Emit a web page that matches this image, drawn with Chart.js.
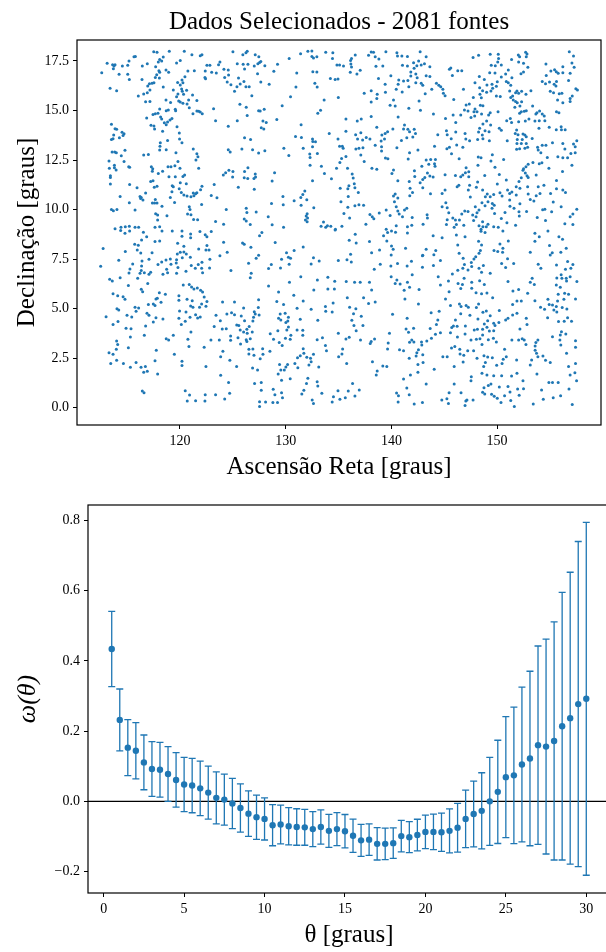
<!DOCTYPE html>
<html>
<head>
<meta charset="utf-8">
<script src="https://cdn.jsdelivr.net/npm/chart.js@4.4.1/dist/chart.umd.min.js"></script>
<style>
  html, body { margin: 0; padding: 0; background: #fff; width: 606px; height: 952px; overflow: hidden; position: relative; }
  #mapa { position: absolute; left: 0; top: 0; }
  #correlacao { position: absolute; left: 0; top: 480px; }
</style>
</head>
<body>
<canvas id="mapa" width="606" height="480"></canvas>
<canvas id="correlacao" width="614" height="472"></canvas>
<script>
// Painel 1: posições das fontes (ascensão reta, declinação)
const tituloMapa = 'Dados Selecionados - 2081 fontes';
const fontes = [
[112.60,16.91],[113.11,17.38],[113.63,17.31],[113.76,17.25],[113.86,17.31],[113.70,17.11],[114.55,17.25],[115.06,17.28],[115.18,17.5],[115.65,17.72],[115.78,17.73],[114.24,16.83],[115.06,16.83],[115.21,16.56],[113.39,16.13],[114.01,16.0],[116.41,16.56],[116.44,17.25],[116.91,17.36],[117.52,17.97],[117.83,17.94],[118.08,17.58],[118.42,17.7],[118.27,17.5],[117.95,17.45],[117.70,17.21],[118.01,17.01],[118.08,16.93],[117.80,16.81],[117.67,16.67],[118.05,16.64],[118.68,17.04],[118.93,16.93],[118.99,17.99],[119.68,17.4],[120.03,17.52],[120.41,17.99],[120.75,16.99],[121.13,17.82],[121.36,17.01],[121.92,17.77],[122.08,17.82],[122.39,16.99],[122.36,16.67],[122.42,16.6],
[119.78,16.42],[120.19,16.54],[120.28,16.4],[120.47,16.71],[120.03,16.29],[120.16,16.08],[120.63,16.02],[120.34,15.82],[120.22,15.97],[119.81,15.83],[119.68,15.7],[119.37,16.03],[121.19,15.78],[121.60,15.51],[120.82,15.53],[120.67,15.33],[120.28,15.36],[120.03,15.43],[119.88,15.48],[119.11,15.41],[118.42,16.19],[118.68,15.53],[118.70,14.99],[118.90,15.02],[119.56,15.06],[119.59,14.99],[119.24,14.59],[119.06,14.52],[118.83,14.42],[118.70,14.28],[118.52,14.38],[118.27,14.57],[118.17,14.67],[117.92,14.86],[118.08,15.07],[117.67,14.84],[117.45,14.8],[116.85,14.62],[117.16,15.46],[116.75,15.44],[116.57,15.83],[116.06,15.73],[116.91,15.9],[117.16,16.03],[116.95,16.24],[117.11,16.35],[117.36,16.37],[117.54,16.4],[117.26,14.25],[117.54,14.22],[117.60,14.06],[118.36,13.95],[119.72,14.18],[119.94,13.86],[119.96,13.56],[120.19,13.37],[120.88,15.14],[121.23,14.84],[121.60,14.97],[121.77,14.96],[121.92,14.92],[122.11,14.84],[121.26,13.05],[121.60,12.82],[121.70,12.67],[121.51,12.5],[121.77,12.09],[122.08,11.18],[121.95,11.0],[121.60,10.85],[121.48,10.8],[121.26,10.83],[121.32,10.7],[120.88,10.14],[120.95,10.0],[120.72,9.77],[121.04,9.74],[121.29,9.5],[121.67,9.48],[122.05,10.26],
[113.52,14.3],[113.86,14.08],[114.01,14.05],[114.52,13.9],[114.71,13.83],[114.62,13.74],[114.27,13.63],[113.73,13.76],[113.52,13.54],[113.67,13.58],[113.58,12.9],[113.83,12.9],[113.98,12.87],[114.80,12.99],[114.45,12.72],[114.71,12.43],[115.15,12.16],[115.24,12.13],[113.80,12.23],[113.80,12.11],[113.96,12.0],[113.32,12.09],[113.29,12.45],[113.42,11.71],[113.42,11.62],[113.42,11.29],[115.24,11.27],[115.94,11.1],[116.22,10.66],[116.34,10.61],[116.28,10.56],[116.75,10.83],[116.50,10.48],[114.34,10.66],[115.21,10.34],[115.75,9.97],[113.52,10.0],[113.70,9.94],[114.04,10.0],[117.42,12.06],[117.29,12.16],[117.39,11.93],[117.45,11.45],[117.23,11.42],[117.57,11.13],[117.83,11.17],[117.95,11.82],[118.36,11.93],[118.87,12.16],[119.15,12.16],[119.52,12.21],[120.00,12.08],[118.96,11.66],[119.56,11.66],[119.81,12.43],[120.28,11.67],[120.44,11.74],[120.03,11.35],[120.60,11.3],[120.37,10.73],[120.67,10.68],[121.04,10.64],[119.93,11.05],[120.13,10.86],[119.27,11.2],[119.37,11.15],[119.24,10.9],[119.09,10.61],[119.49,10.36],[118.30,10.16],[117.67,10.51],[117.60,10.33],[117.39,10.33],[117.83,10.33],[117.70,9.79],[117.89,9.72],[117.89,9.47],[118.77,9.69],[118.08,9.13],[117.64,9.1],[116.09,9.1],[115.75,9.1],[115.21,9.15],[114.83,9.13],[114.42,9.1],[113.86,9.03],[116.57,12.75],[117.01,12.78],[118.14,13.37],[118.11,13.2],[118.08,13.0],[118.70,13.02],[119.62,12.87],[118.83,13.49],
[122.55,17.28],[122.83,17.28],[123.00,16.93],[123.44,16.89],[123.65,17.31],[123.78,17.45],[124.16,17.08],[124.23,16.67],[124.57,17.04],[124.60,16.79],[124.47,16.44],[124.82,16.3],[125.01,17.97],[125.42,17.36],[125.54,16.64],[125.39,16.2],[125.16,15.97],[125.70,16.34],[125.95,17.82],[126.24,17.92],[126.36,17.99],[125.98,17.33],[126.43,17.33],[126.11,17.09],[126.05,16.47],[126.24,16.2],[126.55,16.2],[127.12,17.82],[127.46,17.72],[127.37,17.36],[127.53,17.43],[127.65,17.48],[128.03,17.26],[127.03,17.25],[127.34,16.86],[127.65,16.44],[128.44,16.32],[128.88,16.98],[129.23,17.33],[126.80,15.75],[125.67,15.31],[126.27,15.16],[126.36,14.75],[127.44,14.99],[127.59,14.97],[127.97,15.06],[127.85,14.47],[128.16,14.4],[127.69,14.13],[127.93,14.06],[129.16,14.55],[129.67,15.24],[123.18,15.09],[123.37,14.48],[124.57,14.2],[125.42,14.48],[126.11,13.63],[126.68,13.54],[124.57,13.02],[124.75,12.9],[125.86,13.05],[126.87,13.02],[127.44,12.85],[128.03,12.97],[129.83,13.09],[130.30,12.73],[130.93,13.69],[131.49,13.64],[131.46,14.28],[131.66,13.09],[132.54,13.56],[132.57,13.44],[132.82,13.42],[132.54,13.17],[132.28,12.8],[132.31,12.63],[133.00,12.83],[132.31,12.24],[132.54,11.45],[133.30,15.01],[133.04,14.86],[134.12,13.84],[130.46,15.7],[130.97,16.19],[131.05,16.89],[130.33,17.63],[131.41,17.87],[132.10,17.99],[132.48,18.0],[132.48,17.73],[132.63,17.65],[132.95,17.72],[132.57,16.96],[132.95,16.94],[132.76,16.37],[132.98,16.19],[133.79,17.94],[134.46,17.92],[134.43,17.63],[134.23,16.62],[134.68,16.57],[133.64,15.53],[126.43,12.11],[126.11,11.92],[127.12,11.79],[127.15,11.64],[127.00,11.57],[126.08,11.6],[126.41,11.57],[125.01,11.92],[124.63,11.98],[124.32,11.86],[124.10,11.74],[124.98,11.64],[125.52,11.13],[123.24,11.27],[122.96,10.71],[123.50,10.59],[124.38,10.0],[127.03,11.03],[128.95,11.86],[128.72,11.44],[129.74,10.66],[130.80,10.44],[129.77,10.24],[128.66,10.31],[131.43,10.61],[131.62,10.76],[131.81,10.93],[131.46,10.21],[132.00,10.49],[132.03,9.79],[131.94,9.67],[132.07,9.57],[131.87,9.47],[132.03,9.38],[132.66,10.09],[133.38,12.18],[133.67,11.82],[134.33,11.55],[134.81,12.08],[133.35,9.15],[133.58,9.37],[133.79,9.1],[133.95,9.18],[134.27,9.16],[134.71,9.0],[126.27,10.07],[126.33,9.85],[127.21,9.87],[128.35,9.63],[126.08,9.52],[126.27,9.42],[126.65,9.25],[128.72,9.23],[129.80,9.1],[124.13,9.26],[123.37,9.4],
[134.85,17.3],[135.10,17.3],[135.47,17.25],[134.95,16.59],[134.98,15.66],[136.14,17.52],[136.23,17.63],[136.58,17.8],[136.17,17.35],[136.23,17.2],[136.11,16.93],[136.74,16.84],[137.05,17.03],[137.84,17.79],[138.09,17.95],[138.31,17.94],[138.47,17.72],[138.82,17.6],[139.48,17.97],[138.54,17.23],[139.19,17.25],[139.95,16.76],[138.78,16.62],[139.41,16.32],[139.44,15.92],[138.66,15.82],[138.62,15.6],[138.09,16.0],[137.43,15.87],[138.09,15.43],[139.88,15.26],[140.36,15.23],[140.20,15.53],[140.52,17.92],[140.58,17.75],[140.99,17.75],[141.52,17.73],[141.05,17.28],[141.52,17.25],[142.10,17.41],[142.58,17.5],[142.72,17.97],[143.29,17.72],[143.13,17.36],[142.82,17.3],[142.41,17.26],[142.15,17.13],[141.84,16.94],[142.31,16.84],[142.44,16.66],[141.84,16.74],[141.56,16.52],[141.15,16.49],[140.70,16.54],[140.64,16.32],[140.46,16.07],[141.02,15.93],[141.65,16.2],[142.31,16.4],[142.82,16.37],[142.97,16.27],[143.29,16.76],[143.64,16.72],[143.64,17.21],[143.20,15.85],[142.62,15.48],[141.65,15.11],[142.75,15.01],[143.82,16.07],[144.26,16.37],[144.49,16.27],[144.67,16.2],[144.87,16.07],[144.92,15.87],[145.08,15.75],[143.98,14.82],[145.90,15.56],[145.49,17.08],[145.62,17.15],[145.77,16.77],[146.28,17.01],[146.66,17.01],[146.82,16.07],[147.07,15.28],[146.91,15.02],[146.56,14.77],[145.84,14.77],[145.12,14.6],[146.09,14.4],[146.97,13.84],[147.04,13.56],[145.21,13.98],[145.28,13.78],[145.66,13.58],[146.09,13.91],[144.39,13.78],[144.08,13.19],[145.25,13.07],[145.49,13.15],[146.18,13.26],[145.69,12.82],[146.41,12.57],[146.76,13.14],[147.00,11.86],[147.07,12.11],[146.76,11.74],[146.56,11.66],[146.06,11.72],[146.38,11.23],[146.22,11.15],[145.08,11.76],[144.80,10.81],[145.08,10.98],[143.95,11.64],[143.64,11.69],[143.41,11.84],[143.16,11.62],[142.97,11.52],[144.13,12.19],[144.08,12.31],[143.72,12.53],[144.17,12.53],[143.29,12.5],[143.54,12.28],[142.88,12.18],[142.21,11.67],[141.69,11.42],[141.77,11.08],[142.00,10.86],[141.74,10.7],[142.97,11.1],[142.72,11.35],[143.70,10.8],[141.46,10.06],[141.24,9.97],[141.05,9.63],[140.36,10.78],[140.20,10.68],[140.61,10.58],[140.29,10.39],[140.61,9.92],[140.74,9.77],[140.46,10.14],[139.88,9.7],[139.51,9.97],[140.46,9.18],[141.97,9.6],[141.93,9.2],[143.38,9.74],[143.41,9.57],[143.00,9.26],[141.52,9.13],[140.20,11.99],[140.05,11.82],[140.61,11.45],[142.18,11.96],[141.59,12.55],[141.72,12.87],[142.51,13.0],[142.16,14.05],[142.28,13.84],[142.03,13.66],[141.72,13.93],[141.56,14.05],[141.15,14.06],[141.24,14.27],[141.46,13.63],[140.95,13.49],[140.64,14.67],[140.14,14.06],[139.64,13.93],[139.41,13.84],[139.10,13.76],[139.03,13.46],[139.35,13.56],[138.47,13.24],[139.07,13.17],[139.07,12.95],[139.44,12.6],[139.67,12.56],[140.52,13.12],[138.62,14.15],[138.09,14.7],[137.15,14.57],[136.77,14.47],[135.70,14.57],[135.70,13.95],[136.62,13.78],[136.80,13.56],[137.28,13.51],[137.62,13.64],[137.97,13.56],[137.11,13.88],[137.31,13.12],[136.93,13.09],[136.64,13.05],[137.11,12.75],[135.10,13.2],[135.36,13.2],[135.44,13.09],[134.95,13.56],[135.70,12.68],[135.29,12.58],[135.13,12.38],[135.85,12.08],[136.29,11.79],[136.39,11.59],[136.49,11.3],[136.55,11.1],[135.98,11.2],[135.88,11.05],[136.87,10.86],[135.92,10.66],[135.23,10.39],[135.16,11.07],[135.88,10.11],[136.55,10.19],[136.93,10.24],[137.37,10.21],[135.51,9.8],[136.05,9.57],[135.32,9.16],[137.59,9.26],[137.97,9.75],[138.19,9.63],[138.34,9.53],[138.85,9.82],[139.51,9.0],[138.16,12.08],[138.62,12.03],[137.43,12.43],[145.15,10.34],[145.28,10.09],[144.80,10.14],[145.43,9.84],[145.28,9.48],[145.21,9.25],[145.81,9.57],[146.06,9.47],[146.15,9.25],[146.44,9.47],[146.66,9.77],[146.94,9.92],[146.85,9.21],[145.94,9.1],
[147.73,17.68],[148.25,17.79],[149.35,17.84],[150.11,17.84],[150.14,17.63],[150.06,17.45],[151.37,17.57],[152.01,17.8],[152.13,17.72],[152.04,17.45],[152.50,17.38],[152.70,17.94],[152.83,17.85],[152.76,17.72],[152.91,17.18],[152.50,16.94],[152.26,16.86],[151.06,17.04],[150.81,16.84],[150.40,16.69],[150.40,17.3],[149.83,17.26],[149.45,17.28],[149.30,16.91],[149.80,16.89],[150.02,16.45],[149.93,16.22],[149.04,16.29],[148.79,16.57],[148.32,16.72],[147.91,16.4],[148.35,16.15],[148.63,16.0],[148.38,15.82],[148.51,15.65],[147.75,15.66],[149.52,16.32],[149.58,16.12],[149.42,15.98],[149.01,15.92],[149.93,15.73],[150.30,15.71],[150.87,16.47],[151.06,16.4],[151.29,16.27],[151.19,15.98],[151.40,16.66],[151.75,15.9],[151.88,15.98],[152.04,15.87],[152.32,15.97],[152.73,15.82],[151.47,15.73],[151.29,15.66],[151.53,15.53],[151.75,15.46],[151.91,15.39],[152.32,15.44],[152.16,15.23],[151.68,15.16],[153.20,16.0],[153.36,15.23],[152.76,14.99],[152.57,14.96],[152.29,14.94],[152.13,14.86],[152.04,14.43],[152.67,14.47],[153.01,14.57],[153.67,14.82],[153.77,14.89],[154.02,14.97],[154.27,14.82],[154.46,14.72],[154.52,14.48],[153.99,14.48],[153.58,14.47],[153.96,14.1],[154.93,14.16],[155.60,14.03],[156.06,14.18],[156.09,14.03],[156.44,14.03],[155.62,14.94],[155.85,14.89],[154.62,17.35],[155.09,16.99],[155.44,17.06],[155.60,16.96],[155.78,16.88],[156.22,17.21],[156.22,16.91],[156.76,16.52],[156.91,16.88],[157.08,17.4],[157.29,17.18],[157.23,17.75],[156.83,17.97],[154.65,16.77],[154.27,16.47],[154.58,16.35],[154.96,16.44],[155.40,16.32],[155.62,16.47],[155.57,16.24],[155.03,15.97],[155.34,15.9],[155.88,15.85],[156.13,15.87],[155.72,15.53],[156.22,15.39],[156.91,15.61],[157.11,15.73],[157.45,16.1],[157.60,16.03],[156.91,15.46],[147.81,14.94],[147.91,15.07],[148.10,14.94],[148.42,15.26],[148.66,15.24],[147.37,15.33],[147.25,14.97],[147.53,14.65],[147.88,14.72],[148.53,14.82],[149.20,14.77],[149.35,14.89],[150.09,14.94],[149.01,14.47],[148.66,14.32],[149.39,14.27],[148.35,14.11],[148.25,13.91],[148.86,13.98],[149.24,13.93],[150.21,14.1],[150.40,14.0],[150.91,14.48],[151.25,14.59],[151.37,14.4],[151.85,14.01],[151.72,13.84],[151.98,13.78],[152.45,13.81],[152.63,13.76],[152.76,13.68],[152.38,13.54],[151.91,13.54],[151.88,13.34],[152.29,13.34],[152.76,13.34],[152.89,13.15],[152.63,13.09],[152.13,13.07],[151.85,13.04],[153.32,13.59],[150.96,13.47],[147.40,13.47],[148.16,13.54],[148.66,13.57],[148.60,13.76],[149.27,13.47],[153.83,13.14],[153.89,13.0],[154.27,13.24],[154.62,13.24],[154.14,12.87],[154.75,12.63],[155.24,13.37],[156.22,13.34],[156.41,13.05],[157.23,13.31],[157.39,13.17],[157.54,13.47],[157.39,12.87],[155.75,12.67],[156.22,12.62],[156.67,12.62],[156.98,12.83],[157.08,12.23],[156.19,11.92],[155.62,11.47],[154.24,12.36],[153.99,12.31],[154.90,12.08],[154.43,11.22],[153.89,11.15],[154.06,10.81],[153.70,10.69],[153.14,10.51],[153.48,10.43],[153.70,11.74],[152.94,12.28],[152.73,12.16],[152.50,12.06],[152.67,11.84],[152.83,11.71],[152.94,11.62],[152.45,11.98],[153.39,12.38],[152.29,11.6],[152.07,11.42],[152.16,11.07],[152.94,10.78],[152.89,11.15],[151.81,11.15],[151.81,10.73],[151.40,10.88],[151.19,10.81],[150.99,10.98],[151.19,10.48],[150.87,11.49],[150.21,11.77],[150.62,12.53],[149.80,12.14],[148.83,11.72],[148.19,12.24],[148.22,12.65],[148.48,12.61],[149.55,12.77],[149.42,12.45],[148.16,11.39],[148.04,11.13],[148.63,10.98],[149.07,10.78],[148.89,10.64],[149.35,10.64],[149.68,10.76],[150.02,11.29],[150.27,10.85],[150.47,10.68],[149.55,10.31],[149.73,10.22],[149.52,10.06],[149.76,9.8],[150.40,9.55],[150.75,9.85],[151.22,10.17],[151.60,10.06],[152.16,10.29],[152.07,9.89],[152.79,9.9],[152.10,9.67],[151.75,9.21],[150.93,9.33],[150.11,9.1],[149.68,9.13],[149.14,9.26],[148.98,9.13],[148.66,9.13],[148.48,9.0],[148.29,9.18],[148.63,9.38],[147.78,9.45],[148.01,9.63],[147.69,9.72],[148.10,9.84],[148.29,9.97],[147.94,10.14],[147.25,9.9],[147.40,11.22],[147.32,11.66],[147.32,11.91],[147.28,10.98],[147.47,10.63],[148.57,10.34],[148.86,10.19],[149.14,10.39],[154.52,10.02],[155.16,9.89],[153.80,9.6],[154.58,9.45],[154.31,9.99],[155.06,10.81],[155.62,11.05],[156.47,10.86],[156.22,10.98],[156.41,9.28],[156.91,9.63],[157.17,9.77],[157.54,10.02],[157.17,9.25],[156.06,10.14],[155.31,10.38],
[114.39,8.94],[114.80,8.8],[115.24,8.92],[116.54,8.85],[116.85,8.63],[116.37,8.46],[116.06,8.2],[115.72,8.25],[115.96,7.96],[116.29,7.81],[114.83,7.88],[112.73,8.03],[112.50,7.13],[114.21,7.44],[115.53,7.25],[115.27,7.0],[115.18,6.8],[116.41,7.4],[116.37,7.15],[116.34,6.92],[116.22,6.78],[116.63,6.81],[117.23,6.83],[117.07,6.73],[117.07,7.49],[117.36,7.82],[117.64,8.38],[118.08,8.41],[118.30,8.92],[116.00,6.53],[113.35,6.48],[113.60,6.39],[114.34,6.56],[115.12,6.16],[116.95,6.27],[116.34,5.97],[116.47,5.85],[118.05,5.8],[118.62,5.72],[117.86,5.52],[117.73,5.48],[118.21,5.32],[113.67,5.75],[114.11,5.65],[114.62,5.6],[114.80,5.47],[114.04,4.99],[114.21,4.93],[113.01,4.59],[113.67,4.2],[114.14,4.34],[114.99,4.66],[115.44,4.57],[115.75,5.06],[116.09,5.03],[115.85,4.86],[116.88,4.76],[117.07,4.66],[117.01,5.2],[117.48,5.23],[117.64,5.16],[117.73,4.54],[117.48,4.32],[118.39,4.47],[116.75,4.12],[114.90,4.0],[115.37,3.98],[115.31,3.56],[114.01,3.36],[114.11,3.18],[113.98,2.94],[113.29,2.77],[113.67,2.69],[115.12,3.02],[116.63,3.65],[117.76,2.89],[118.70,3.48],[118.93,3.41],[119.37,3.65],[119.47,2.69],[117.64,2.37],[114.01,2.39],[113.45,2.23],[114.65,2.22],[115.31,2.03],[115.85,2.27],[116.32,2.03],[116.73,2.07],[116.57,1.78],[116.91,1.83],[117.89,1.7],[116.44,0.84],[116.60,0.75],[120.50,0.85],[120.91,0.63],[120.69,0.33],[121.48,0.35],[122.39,0.65],[122.36,0.33],[122.46,2.08],[122.29,3.04],[120.85,3.09],[120.75,3.45],[121.04,3.82],[120.19,2.34],[120.19,2.12],[119.27,8.92],[120.19,8.92],[120.19,8.65],[121.01,8.77],[121.01,8.57],[121.89,8.89],[122.39,8.73],[119.78,8.3],[120.37,8.14],[119.75,7.76],[120.03,7.84],[120.37,7.86],[120.60,7.76],[120.98,7.59],[120.22,7.57],[119.68,7.47],[119.09,7.5],[118.68,7.45],[118.27,7.35],[117.92,7.22],[119.15,7.24],[119.65,7.3],[119.81,7.07],[120.57,6.88],[121.45,7.03],[121.07,7.17],[121.73,7.22],[122.05,7.03],[122.14,6.81],[122.08,7.34],[121.77,8.01],[122.46,7.96],[118.74,6.98],[118.39,6.73],[118.83,6.81],[119.68,6.78],[120.31,6.19],[120.88,6.22],[121.10,6.09],[121.32,5.99],[121.64,6.04],[121.95,5.92],[122.14,5.84],[122.29,5.58],[119.90,5.64],[119.90,5.42],[120.67,5.47],[121.16,5.4],[121.01,5.13],[121.23,5.06],[121.85,5.06],[122.05,5.23],[122.46,5.11],[119.96,4.88],[120.57,4.83],[121.48,4.69],[121.67,4.52],[121.92,4.57],[120.95,4.56],[119.90,4.51],[120.50,4.36],[120.13,4.19],
[122.96,8.89],[122.55,8.63],[122.55,8.18],[122.75,7.96],[122.83,7.49],[122.80,7.05],[123.78,7.66],[124.13,8.35],[124.47,7.84],[124.82,6.92],[125.92,8.31],[126.08,8.25],[126.71,8.09],[127.53,8.68],[127.75,8.84],[127.44,7.69],[127.21,7.54],[126.49,7.29],[126.74,6.78],[126.65,6.56],[128.38,7.02],[128.64,7.22],[129.01,8.33],[129.51,7.05],[129.61,7.49],[130.08,7.82],[130.26,7.59],[130.46,7.54],[130.33,7.24],[130.80,7.93],[131.66,8.11],[131.43,6.61],[130.36,6.33],[129.33,5.84],[128.38,6.14],[129.80,5.21],[130.77,5.67],[129.16,5.35],[127.44,5.45],[127.41,5.05],[127.03,4.84],[127.12,4.73],[126.96,4.56],[127.49,4.68],[126.90,4.37],[126.55,4.09],[126.84,3.82],[126.33,3.95],[126.27,3.43],[126.02,5.03],[125.80,4.62],[126.11,4.39],[125.57,4.14],[125.37,4.17],[124.88,4.79],[124.44,4.73],[125.16,4.69],[125.70,3.92],[126.02,3.82],[126.36,3.75],[126.33,3.33],[125.73,3.21],[125.49,3.53],[124.79,3.61],[124.79,3.4],[124.00,3.97],[124.38,3.98],[123.24,4.09],[123.41,4.66],[123.82,4.39],[122.93,3.41],[123.72,3.41],[124.03,5.33],[125.16,5.33],[122.55,5.35],[123.85,2.57],[124.06,2.84],[123.85,1.63],[123.37,0.65],[124.23,0.43],[124.70,0.72],[124.60,1.26],[125.36,2.08],[124.72,2.39],[126.52,2.71],[126.90,2.96],[127.00,2.64],[127.59,2.47],[127.85,2.69],[128.51,2.84],[126.87,2.0],[127.34,1.9],[127.06,1.21],[127.69,1.26],[127.69,0.87],[128.82,0.92],[128.98,0.65],[127.53,0.3],[127.53,0.06],[128.10,0.28],[128.79,0.26],[129.23,0.25],[129.61,0.75],[129.70,0.5],[128.54,3.73],[128.85,3.45],[129.39,3.28],[129.67,3.14],[129.26,3.88],[129.54,4.42],[129.33,4.51],[129.48,4.73],[129.95,4.76],[130.26,4.56],[130.20,4.37],[130.02,4.3],[130.26,4.07],[130.11,3.92],[130.49,3.65],[130.43,3.45],[129.98,3.5],[131.08,3.92],[131.62,3.9],[131.62,3.65],[131.38,4.46],[131.08,5.01],[131.66,5.38],[132.41,4.96],[133.04,4.41],[132.98,3.43],[133.48,3.53],[133.76,3.14],[133.86,2.87],[131.66,2.97],[131.72,2.74],[131.38,2.62],[131.12,2.52],[130.87,2.23],[131.15,2.01],[132.00,2.54],[132.35,2.49],[132.63,2.69],[132.41,2.32],[132.20,2.15],[133.13,2.05],[132.10,1.48],[131.97,1.21],[131.72,0.87],[131.53,0.69],[132.98,1.31],[133.04,1.09],[133.42,0.72],[132.51,0.38],[132.63,0.2],[134.40,0.28],[134.52,0.55],[129.29,1.7],[129.54,1.9],[129.87,1.9],[129.61,1.38],[130.43,1.46],[130.02,2.05],[130.18,2.17],[129.42,2.18],[127.82,2.97],[126.52,2.94],[126.65,3.48],[133.00,6.44],[133.76,5.1],[133.79,4.86],[134.40,4.83],[134.49,5.28],[133.99,5.99],[134.61,5.99],[134.64,6.38],[133.99,6.58],[132.66,5.94],[132.41,7.25],[132.63,7.57],[133.17,7.4],[134.68,8.97],
[136.58,8.75],[139.26,8.67],[139.64,8.84],[140.01,8.92],[140.39,8.85],[141.52,8.82],[143.95,8.67],[144.80,8.57],[146.15,8.72],[146.97,8.63],[136.01,8.45],[136.67,8.31],[137.93,8.38],[139.57,8.41],[140.01,8.16],[140.17,7.99],[141.34,8.04],[143.29,7.99],[144.02,7.72],[144.20,7.93],[142.97,7.69],[146.28,8.21],[146.41,7.79],[146.79,7.54],[136.14,7.74],[134.98,7.42],[135.80,7.47],[136.21,7.35],[138.13,7.82],[138.88,7.96],[138.95,7.24],[138.38,6.98],[139.98,7.71],[139.95,7.15],[140.58,7.27],[139.98,6.6],[140.52,6.44],[140.36,6.27],[140.83,6.24],[141.49,7.15],[141.90,7.39],[141.97,6.71],[141.52,6.33],[141.72,6.07],[141.21,5.92],[141.28,5.48],[142.62,5.96],[142.56,5.23],[142.94,7.08],[142.94,7.66],[143.98,7.18],[144.64,7.42],[144.43,6.6],[144.64,6.19],[145.12,5.48],[145.40,6.39],[145.77,6.75],[146.28,6.93],[146.76,7.03],[146.91,7.22],[146.31,6.27],[146.56,6.01],[146.72,6.22],[146.88,6.53],[145.46,5.85],[145.59,5.16],[146.44,5.23],[146.59,5.1],[147.07,5.15],[146.56,4.74],[146.06,4.42],[146.22,4.1],[147.00,4.12],[146.97,3.72],[145.87,4.12],[145.71,4.04],[145.59,3.78],[146.25,3.56],[146.00,3.08],[145.69,3.01],[146.47,2.94],[146.50,2.71],[146.85,2.64],[146.79,2.3],[145.28,2.57],[144.87,2.57],[144.52,4.86],[144.39,4.42],[144.26,4.2],[143.67,3.99],[144.64,3.78],[144.17,3.7],[143.76,4.79],[143.79,3.5],[144.05,1.93],[143.29,1.19],[141.46,0.99],[141.69,0.65],[140.49,0.74],[140.67,0.6],[140.64,0.28],[142.16,0.18],[142.94,0.25],[141.49,4.51],[142.10,4.0],[141.93,3.41],[141.72,3.3],[142.13,3.31],[142.85,3.31],[142.88,3.16],[143.35,3.36],[142.56,2.92],[142.41,2.77],[142.34,2.6],[142.97,2.67],[142.51,2.18],[143.00,2.27],[141.69,2.49],[141.15,2.87],[140.77,2.92],[141.80,1.64],[142.51,1.78],[141.15,1.44],[139.70,3.26],[139.64,2.96],[139.82,3.75],[140.11,4.71],[141.39,3.97],[141.62,3.8],[139.19,2.1],[139.57,2.08],[138.66,1.85],[138.57,1.64],[138.21,2.32],[138.41,3.46],[138.09,3.33],[138.00,3.23],[137.31,4.14],[136.67,3.88],[137.15,4.61],[136.64,4.99],[136.42,4.74],[136.26,4.41],[136.46,4.14],[136.05,5.06],[135.83,5.55],[137.37,5.54],[137.84,5.25],[138.47,5.33],[138.13,5.94],[137.93,6.33],[137.05,6.33],[136.52,6.33],[135.73,6.36],[134.98,3.75],[135.70,3.46],[136.01,3.55],[137.08,3.41],[135.39,2.96],[135.32,2.71],[135.01,2.57],[135.77,2.23],[136.33,1.21],[136.96,0.89],[136.55,0.58],[135.92,0.84],[134.95,0.85],[135.13,0.42],[135.64,0.5],[144.77,0.38],[145.25,0.45],[145.40,0.21],[145.46,0.75],[145.94,1.19],[146.59,0.75],[146.97,0.1],[147.04,0.33],[145.94,2.07],
[148.48,8.9],[148.86,8.84],[150.55,8.92],[153.58,8.8],[153.99,8.63],[154.81,8.92],[155.85,8.63],[156.19,8.5],[148.25,8.4],[148.53,8.21],[150.27,8.26],[151.06,8.41],[153.58,8.4],[154.96,8.18],[156.54,8.04],[156.03,7.84],[155.22,7.82],[155.03,7.71],[153.14,7.84],[150.55,8.04],[150.52,7.84],[150.06,7.88],[149.71,7.93],[148.42,7.93],[148.29,7.79],[147.98,7.62],[147.81,7.5],[147.56,7.32],[147.60,7.12],[147.25,6.95],[148.70,7.18],[148.29,7.03],[148.53,6.83],[149.35,6.78],[148.35,6.41],[148.79,6.22],[147.60,6.33],[147.60,6.02],[148.01,5.8],[148.53,5.75],[149.04,5.79],[149.58,5.55],[150.43,7.28],[150.81,7.07],[150.99,7.52],[151.57,7.27],[151.03,6.36],[151.50,5.89],[151.47,5.2],[151.88,5.38],[152.04,5.96],[152.29,5.38],[152.89,5.77],[153.14,6.33],[153.32,6.53],[153.52,6.21],[153.89,7.24],[154.14,7.03],[153.58,5.4],[154.11,5.06],[154.49,4.96],[154.81,5.47],[154.93,5.2],[155.24,5.18],[155.60,5.1],[155.37,4.93],[155.65,4.83],[155.72,5.38],[155.78,5.72],[155.98,6.07],[155.60,6.19],[155.65,6.54],[156.13,6.53],[156.54,6.53],[156.91,6.61],[156.57,6.39],[156.39,5.77],[156.76,5.72],[156.32,5.47],[156.16,5.05],[156.60,4.98],[157.42,5.48],[157.55,6.36],[155.62,7.2],[156.47,6.98],[156.06,6.71],[156.98,7.03],[157.17,7.22],[156.67,7.37],[147.28,5.06],[147.43,4.66],[148.04,5.05],[148.25,5.23],[148.66,4.81],[148.98,4.88],[149.35,4.64],[149.11,4.39],[149.68,4.26],[150.21,4.9],[150.17,4.29],[150.81,4.42],[151.03,4.51],[151.47,4.68],[151.88,4.76],[148.19,4.47],[148.14,3.95],[147.84,3.92],[148.63,3.95],[148.79,4.22],[149.04,4.05],[149.27,3.87],[147.53,3.41],[148.04,3.45],[148.38,3.48],[148.63,3.67],[149.17,3.43],[149.80,4.14],[149.68,3.88],[149.65,3.5],[149.93,3.31],[148.57,3.19],[147.78,2.87],[147.22,2.87],[148.10,2.49],[148.76,2.62],[149.11,2.55],[149.55,2.52],[150.71,2.94],[150.87,2.57],[150.58,2.44],[150.47,2.23],[149.96,2.14],[149.68,1.61],[149.04,1.64],[148.57,1.73],[148.89,2.27],[148.73,2.07],[147.56,1.56],[147.53,1.36],[148.76,1.0],[148.63,0.77],[148.83,0.68],[149.17,1.11],[149.42,1.19],[149.48,0.67],[149.73,0.57],[150.02,0.47],[150.21,1.04],[150.37,0.25],[150.71,0.6],[151.03,1.07],[151.29,0.36],[151.63,0.05],[151.22,0.79],[151.94,0.94],[152.09,0.62],[152.50,0.95],[151.37,1.59],[150.43,1.61],[151.88,1.73],[152.45,1.36],[153.42,0.18],[154.21,0.89],[154.37,0.42],[155.31,0.5],[156.01,0.6],[157.11,0.16],[156.80,0.94],[154.90,1.26],[155.24,1.26],[155.78,1.26],[157.52,1.36],[157.36,1.76],[156.91,1.64],[156.76,2.08],[157.42,2.23],[156.57,2.74],[155.03,2.27],[154.58,2.39],[154.34,2.6],[153.86,2.57],[153.73,2.74],[153.60,2.89],[153.86,3.41],[153.67,3.28],[153.60,3.11],[153.27,2.4],[153.14,2.15],[153.77,1.69],[152.57,3.41],[152.38,3.48],[152.73,3.19],[152.83,4.2],[152.16,3.97],[152.04,3.41],[151.40,3.41],[151.85,2.4],[155.24,3.58],[155.94,3.41],[155.98,3.67],[156.09,3.83],[156.03,3.16],[156.50,3.72],[157.42,3.38],[157.42,3.04],[157.04,4.36],[156.67,4.54],[156.35,4.36],[155.81,4.34],[154.78,4.54],[152.76,4.51],[147.15,0.38],[147.73,0.38]
];

// Painel 2: função de correlação angular w(theta) com barras de erro
const theta = [0.5,1.0,1.5,2.0,2.5,3.0,3.5,4.0,4.5,5.0,5.5,6.0,6.5,7.0,7.5,8.0,8.5,9.0,9.5,10.0,
  10.5,11.0,11.5,12.0,12.5,13.0,13.5,14.0,14.5,15.0,15.5,16.0,16.5,17.0,17.5,18.0,18.5,19.0,19.5,20.0,
  20.5,21.0,21.5,22.0,22.5,23.0,23.5,24.0,24.5,25.0,25.5,26.0,26.5,27.0,27.5,28.0,28.5,29.0,29.5,30.0];
const omega = [0.434,0.232,0.153,0.144,0.111,0.092,0.090,0.078,0.061,0.048,0.045,0.037,0.025,0.010,0.005,-0.006,-0.019,-0.035,-0.045,-0.050,
  -0.068,-0.066,-0.071,-0.073,-0.074,-0.079,-0.073,-0.084,-0.079,-0.085,-0.098,-0.111,-0.109,-0.121,-0.121,-0.119,-0.099,-0.102,-0.096,-0.087,
  -0.087,-0.088,-0.084,-0.075,-0.050,-0.036,-0.027,0.000,0.027,0.069,0.074,0.105,0.122,0.160,0.156,0.172,0.214,0.237,0.277,0.292];
const erroOmega = [0.107,0.088,0.080,0.080,0.078,0.078,0.078,0.078,0.0775,0.0775,0.0775,0.0775,0.0755,0.074,0.0725,0.0715,0.0685,0.065,0.063,0.060,
  0.0585,0.055,0.053,0.052,0.051,0.050,0.049,0.047,0.047,0.0475,0.0475,0.0455,0.045,0.046,0.045,0.0435,0.045,0.044,0.045,0.0475,
  0.0505,0.0545,0.0625,0.0695,0.082,0.0935,0.1085,0.1255,0.147,0.1725,0.1945,0.2205,0.2485,0.2825,0.306,0.339,0.381,0.4155,0.463,0.5025];

const azul = '#1f77b4';
const serifa = "'Liberation Serif', 'Times New Roman', serif";

// moldura preta em volta da área do gráfico
const moldura = {
  id: 'moldura',
  afterDatasetsDraw(chart) {
    const { ctx, chartArea: a } = chart;
    ctx.save();
    ctx.strokeStyle = '#000';
    ctx.lineWidth = 1.2;
    ctx.strokeRect(a.left, a.top, a.right - a.left, a.bottom - a.top);
    ctx.restore();
  }
};

const tituloTopo = {
  id: 'tituloTopo',
  afterDraw(chart) {
    const { ctx, chartArea: a } = chart;
    ctx.save();
    ctx.fillStyle = '#000';
    ctx.font = '25px ' + serifa;
    ctx.textAlign = 'center';
    ctx.textBaseline = 'alphabetic';
    ctx.fillText(tituloMapa, (a.left + a.right) / 2, a.top - 11);
    ctx.restore();
  }
};

// linha horizontal em zero e barras de erro, tudo pelas escalas do Chart.js
const linhaZero = {
  id: 'linhaZero',
  beforeDatasetsDraw(chart) {
    const { ctx, chartArea: a, scales: { x, y } } = chart;
    const py = y.getPixelForValue(0);
    ctx.save();
    ctx.strokeStyle = '#000';
    ctx.lineWidth = 1.1;
    ctx.beginPath();
    ctx.moveTo(a.left, py);
    ctx.lineTo(a.right, py);
    ctx.stroke();
    ctx.restore();
  }
};

const barrasErro = {
  id: 'barrasErro',
  beforeDatasetsDraw(chart) {
    const { ctx, scales: { x, y } } = chart;
    ctx.save();
    ctx.strokeStyle = azul;
    ctx.lineWidth = 1.3;
    theta.forEach((t, i) => {
      const px = x.getPixelForValue(t);
      const yTopo = y.getPixelForValue(omega[i] + erroOmega[i]);
      const yBase = y.getPixelForValue(omega[i] - erroOmega[i]);
      ctx.beginPath();
      ctx.moveTo(px, yTopo); ctx.lineTo(px, yBase);
      ctx.moveTo(px - 3.5, yTopo); ctx.lineTo(px + 3.5, yTopo);
      ctx.moveTo(px - 3.5, yBase); ctx.lineTo(px + 3.5, yBase);
      ctx.stroke();
    });
    ctx.restore();
  }
};

const fonteTicks = { family: serifa, size: 14 };
const eixoBase = (extra) => Object.assign({
  type: 'linear',
  border: { display: false },
  grid: { drawOnChartArea: false, drawTicks: true, tickLength: 4, color: '#000', lineWidth: 1 },
}, extra);

new Chart(document.getElementById('mapa'), {
  type: 'scatter',
  data: {
    datasets: [{
      data: fontes.map(([ar, dec]) => ({ x: ar, y: dec })),
      pointRadius: 1.5,
      pointBackgroundColor: azul,
      pointBorderWidth: 0,
      showLine: false
    }]
  },
  options: {
    responsive: false,
    animation: false,
    events: [],
    layout: { padding: { top: 40, right: 5, left: 0, bottom: 0 } },
    plugins: { legend: { display: false }, tooltip: { enabled: false } },
    scales: {
      x: eixoBase({
        position: 'bottom',
        min: 110.26, max: 159.83,
        ticks: { stepSize: 10, includeBounds: false, color: '#000', font: fonteTicks, padding: 4, maxRotation: 0 },
        title: { display: true, text: 'Ascensão Reta [graus]', color: '#000', font: { family: serifa, size: 25, lineHeight: 1 }, padding: { top: 0, bottom: 0 } },
        afterFit(s) { s.height = 55; }
      }),
      y: eixoBase({
        position: 'left',
        min: -0.88, max: 18.56,
        ticks: { stepSize: 2.5, includeBounds: false, color: '#000', font: fonteTicks, padding: 4, callback: v => v.toFixed(1) },
        title: { display: true, text: 'Declinação [graus]', color: '#000', font: { family: serifa, size: 25, lineHeight: 1 }, padding: { top: 15, bottom: 0 } },
        afterFit(s) { s.width = 77; }
      })
    }
  },
  plugins: [moldura, tituloTopo]
});

new Chart(document.getElementById('correlacao'), {
  type: 'scatter',
  data: {
    datasets: [{
      data: theta.map((t, i) => ({ x: t, y: omega[i] })),
      pointRadius: 3.2,
      pointBackgroundColor: azul,
      pointBorderWidth: 0,
      showLine: false
    }]
  },
  options: {
    responsive: false,
    animation: false,
    events: [],
    layout: { padding: { top: 25, right: 4, left: 0, bottom: 0 } },
    plugins: { legend: { display: false }, tooltip: { enabled: false } },
    scales: {
      x: eixoBase({
        position: 'bottom',
        min: -0.975, max: 31.475,
        ticks: { stepSize: 5, includeBounds: false, color: '#000', font: fonteTicks, padding: 4, maxRotation: 0 },
        title: { display: true, text: 'θ [graus]', color: '#000', font: { family: serifa, size: 25, lineHeight: 1 }, padding: { top: 0, bottom: 4 } },
        afterFit(s) { s.height = 59; }
      }),
      y: eixoBase({
        position: 'left',
        min: -0.261, max: 0.844,
        ticks: {
          stepSize: 0.2, includeBounds: false, color: '#000', font: fonteTicks, padding: 4,
          callback: v => (Math.abs(v) < 1e-9 ? '0.0' : v.toFixed(1).replace('-', '\u2212'))
        },
        title: { display: true, text: 'ω(θ)', color: '#000', font: { family: serifa, size: 26, style: 'italic', lineHeight: 1 }, padding: { top: 15, bottom: 0 } },
        afterFit(s) { s.width = 88; }
      })
    }
  },
  plugins: [linhaZero, barrasErro, moldura]
});
</script>
</body>
</html>
